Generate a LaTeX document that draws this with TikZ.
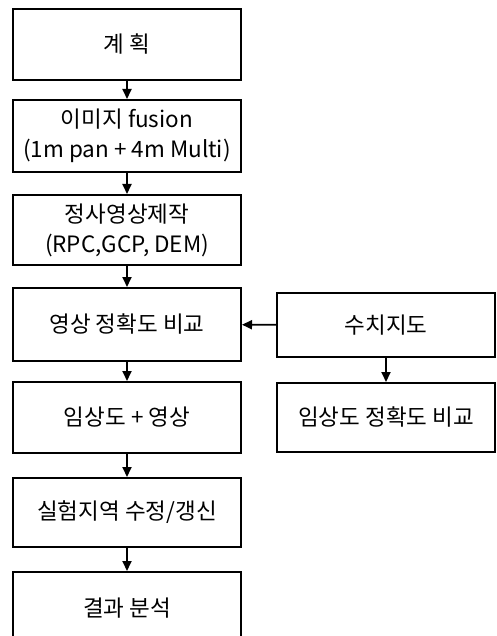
\documentclass[tikz,border=0pt]{standalone}
\usepackage{fontspec}
\setmainfont{Noto Sans CJK KR}
\usetikzlibrary{arrows.meta}
\begin{document}
\begin{tikzpicture}[x=1pt,y=-1pt,
  box/.style={draw=black,line width=2pt,minimum width=228pt,inner sep=0pt,align=center,font=\fontsize{22.5}{30}\selectfont},
  rbox/.style={box,minimum width=218pt},
  arr/.style={line width=1.8pt,-{Triangle[length=10pt,width=9pt]}}]
\useasboundingbox (0,0) rectangle (496,636);
\clip (0,0) rectangle (496,636);
\node[box,minimum height=71pt] (b1) at (127,44.5) {계 획};
\node[box,minimum height=72pt] (b2) at (127,136) {이미지 fusion\\(1m pan + 4m Multi)};
\node[box,minimum height=70pt] (b3) at (127,230) {정사영상제작\\(RPC,GCP, DEM)};
\node[box,minimum height=73pt] (b4) at (127,324.5) {영상 정확도 비교};
\node[box,minimum height=71pt] (b5) at (127,417.5) {임상도 + 영상};
\node[box,minimum height=69pt] (b6) at (127,512.5) {실험지역 수정/갱신};
\node[box,minimum height=72pt] (b7) at (127,608) {결과 분석};
\node[rbox,minimum height=64pt] (r1) at (386,325) {수치지도};
\node[rbox,minimum height=69pt] (r2) at (386,417.5) {임상도 정확도 비교};
\draw[arr] (b1) -- (b2);
\draw[arr] (b2) -- (b3);
\draw[arr] (b3) -- (b4);
\draw[arr] (b4) -- (b5);
\draw[arr] (b5) -- (b6);
\draw[arr] (b6) -- (b7);
\draw[arr] (r1) -- (r2);
\draw[arr] (r1) -- (b4);
\end{tikzpicture}
\end{document}
